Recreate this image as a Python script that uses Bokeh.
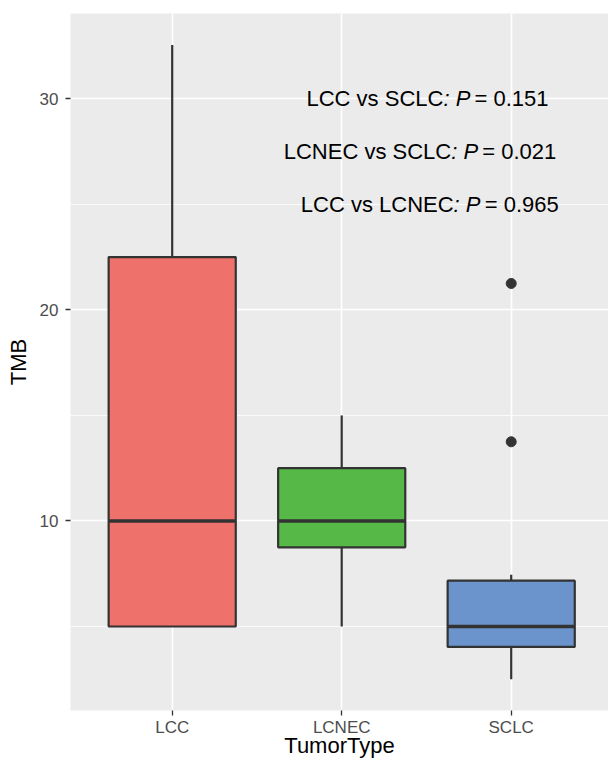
from bokeh.plotting import figure
from bokeh.models import Range1d, FixedTicker, ColumnDataSource
from bokeh.embed import file_html
from bokeh.resources import INLINE
from bokeh.core.properties import value

# ---- data ----
types = ["LCC", "LCNEC", "SCLC"]
pos = [1, 2, 3]
q1 = [5.0, 8.75, 4.03]
median = [10.0, 10.0, 5.0]
q3 = [22.5, 12.5, 7.17]
whisk_lo = [5.0, 5.0, 2.5]
whisk_hi = [32.55, 15.0, 7.45]
fills = ["#EF716B", "#56B947", "#6B94CD"]
out_pos = [3, 3]
out_val = [21.25, 13.75]

comparisons = ["LCC vs SCLC", "LCNEC vs SCLC", "LCC vs LCNEC"]
pvals = ["0.151", "0.021", "0.965"]
ann_x = [2.60, 2.646, 2.66]
ann_y = [30.0, 27.5, 25.0]

FONT = "Liberation Sans"
DARK = "#333333"
BOX_W = 0.75

p = figure(width=608, height=764, output_backend="svg", toolbar_location=None,
           x_range=Range1d(0.4, 3.574), y_range=Range1d(1.02, 34.04),
           min_border_left=70, min_border_top=13, min_border_right=0, min_border_bottom=54)
p.background_fill_color = "#EBEBEB"
p.border_fill_color = "white"
p.outline_line_color = None

# grids
p.xgrid.ticker = FixedTicker(ticks=pos)
p.xgrid.grid_line_color = "white"
p.xgrid.grid_line_width = 1.6
p.ygrid.ticker = FixedTicker(ticks=[10, 20, 30], minor_ticks=[5, 15, 25])
p.ygrid.grid_line_color = "white"
p.ygrid.grid_line_width = 1.6
p.ygrid.minor_grid_line_color = "white"
p.ygrid.minor_grid_line_width = 0.8

# axes
p.xaxis.ticker = FixedTicker(ticks=pos)
p.xaxis.major_label_overrides = {pp: t for pp, t in zip(pos, types)}
p.yaxis.ticker = FixedTicker(ticks=[10, 20, 30], minor_ticks=[5, 15, 25])
for ax in (p.xaxis[0], p.yaxis[0]):
    ax.axis_line_color = None
    ax.major_tick_line_color = DARK
    ax.major_tick_line_width = 1.3
    ax.major_tick_out = 5
    ax.major_tick_in = 0
    ax.minor_tick_line_color = None
    ax.major_label_text_font = FONT
    ax.major_label_text_font_size = "17px"
    ax.major_label_text_color = "#4D4D4D"
    ax.axis_label_text_font = FONT
    ax.axis_label_text_font_size = "22px"
    ax.axis_label_text_font_style = "normal"
    ax.axis_label_text_color = "black"
p.xaxis.axis_label = "TumorType"
p.yaxis.axis_label = "TMB"
p.xaxis.major_label_standoff = 2
p.xaxis.axis_label_standoff = -7
p.yaxis.major_label_standoff = 7
p.yaxis.axis_label_standoff = 6

src = ColumnDataSource(dict(pos=pos, q1=q1, med=median, q3=q3, lo=whisk_lo, hi=whisk_hi,
                            fill=fills,
                            left=[x - BOX_W / 2 for x in pos],
                            right=[x + BOX_W / 2 for x in pos]))

# whiskers
p.segment(x0="pos", y0="q3", x1="pos", y1="hi", source=src, line_color=DARK, line_width=2.2)
p.segment(x0="pos", y0="lo", x1="pos", y1="q1", source=src, line_color=DARK, line_width=2.2)
# boxes
p.vbar(x="pos", width=BOX_W, bottom="q1", top="q3", source=src,
       fill_color="fill", line_color=DARK, line_width=2.2)
# medians
p.segment(x0="left", y0="med", x1="right", y1="med", source=src, line_color=DARK, line_width=3.5)
# outliers
p.scatter(x=out_pos, y=out_val, size=10, fill_color=DARK, line_color=DARK)

# annotations
asrc = ColumnDataSource(dict(x=ann_x, y=ann_y, comp=comparisons,
                             pv=["\u00a0=\u00a0" + v for v in pvals],
                             it=[":\u00a0P"] * len(pvals)))
FS = "22px"
p.text(x="x", y="y", text="comp", source=asrc, text_align="right", text_baseline="middle",
       text_font=value(FONT), text_font_size=FS, text_color="black")
p.text(x="x", y="y", text="it", source=asrc, text_align="left", text_baseline="middle",
       text_font=value(FONT), text_font_size=FS, text_font_style="italic", text_color="black")
p.text(x="x", y="y", text="pv", source=asrc, text_align="left", text_baseline="middle",
       x_offset=25, text_font=value(FONT), text_font_size=FS, text_color="black")

open("out.html", "w").write(file_html(p, INLINE))
